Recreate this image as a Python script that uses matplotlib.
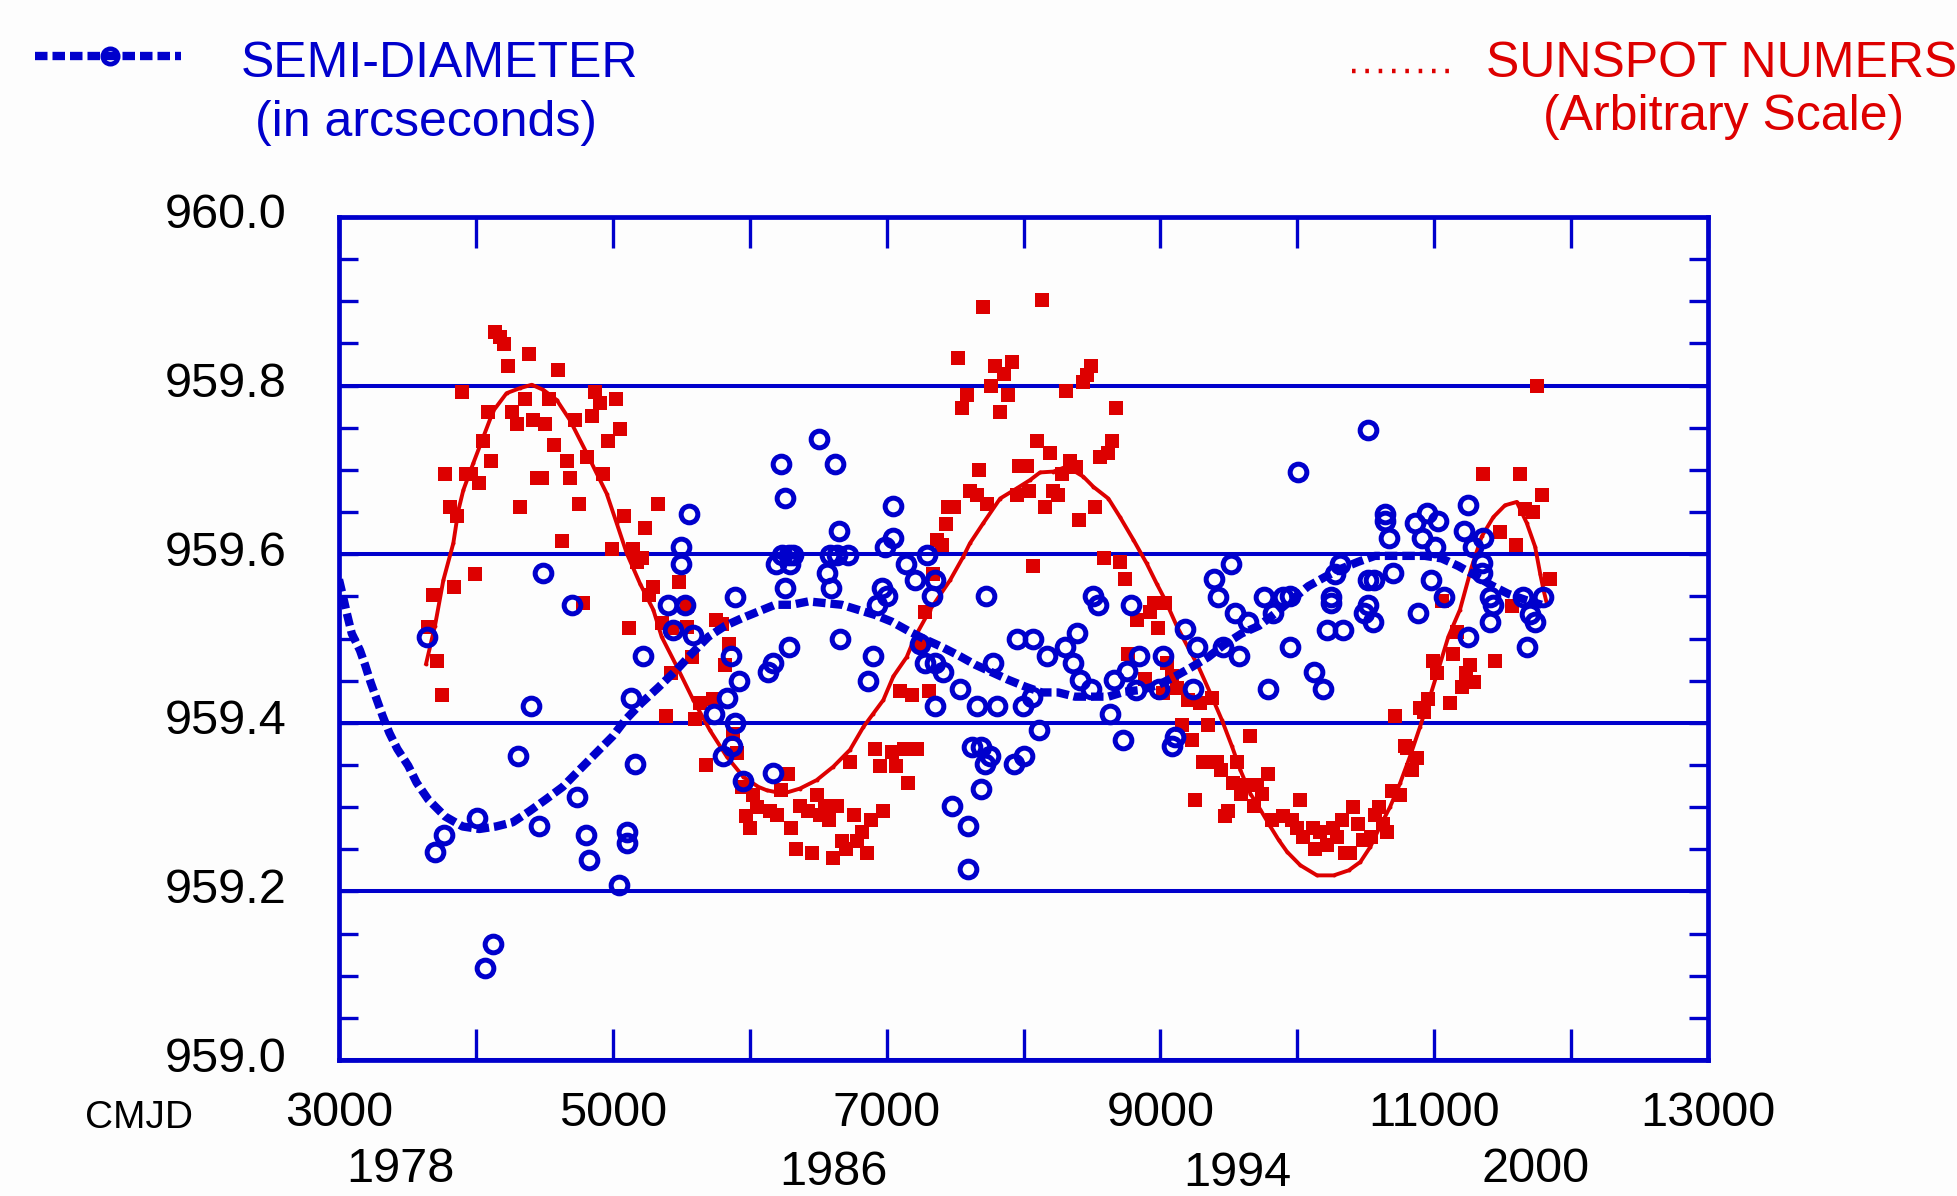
import matplotlib
matplotlib.use('Agg')
import matplotlib.pyplot as plt
from matplotlib.lines import Line2D
from matplotlib.transforms import ScaledTranslation
from matplotlib.ticker import FixedLocator, FormatStrFormatter

plt.rcParams['font.family'] = ['Liberation Sans', 'DejaVu Sans']

# ---------------- data ----------------
# semi-diameter observations (CMJD, arcsec)
sd_x = [5559, 5496, 5496, 4493, 4704, 5406, 5528, 5893, 5437, 3640, 5588,
        5223, 5861, 5925, 5832, 5131, 4403, 5740, 5893, 5869, 5803, 4310, 5165,
        5954, 4741, 4006, 4463, 3767, 3704, 4802, 4829, 5106, 5106, 5043, 4127, 4069,
        6504, 6229, 6626, 6261, 7049, 6655, 7049, 6989, 6290, 6234, 6319, 6587,
        6635, 6721, 7293, 6192, 6295, 6563, 7142, 7208, 7354, 6261, 6594, 6964,
        7001, 7330, 6928, 7724, 8510, 8547, 8783,
        6660, 6290, 6173, 6136, 6903, 6867, 7244, 7281, 7415, 7354, 7780, 7536,
        7356, 7663, 7809, 7994, 8060, 7950, 8072, 8389, 8174, 8304, 8359, 8413,
        8491, 8661, 8754, 8847, 8822, 8993, 9022, 8632, 8116, 8725, 6168, 7622,
        7688, 7756, 7719, 8004, 7931, 7690, 7476, 7597, 7597,
        10519, 10003, 11250, 10641, 10641, 10860, 10945, 11031, 10673, 10909,
        11218, 11354, 11006, 11286, 9516, 10312, 11347, 9394, 10276, 10702,
        10519, 10563, 10975, 11347, 9424, 9760, 9894, 9947, 10244, 10244, 10519,
        11072, 11408, 11432, 11652, 11798, 9545, 9643, 9825, 10556, 10884, 10488,
        11408, 11700, 11737, 9180, 10215, 10337, 11250,
        9947, 11681, 10122, 10186, 9789, 9241, 9265, 9460, 9577, 9107, 9083]
sd_y = [959.648, 959.609, 959.588, 959.578, 959.540, 959.540, 959.540, 959.549, 959.510, 959.502, 959.504,
        959.479, 959.479, 959.450, 959.430, 959.430, 959.420, 959.410, 959.400, 959.372, 959.361, 959.361, 959.351,
        959.331, 959.312, 959.287, 959.277, 959.267, 959.247, 959.267, 959.237, 959.271, 959.257, 959.208, 959.138, 959.109,
        959.737, 959.707, 959.707, 959.667, 959.657, 959.628, 959.619, 959.608, 959.599, 959.599, 959.599, 959.599,
        959.599, 959.599, 959.599, 959.588, 959.588, 959.578, 959.588, 959.569, 959.569, 959.560, 959.560, 959.560,
        959.550, 959.550, 959.540, 959.550, 959.550, 959.540, 959.540,
        959.499, 959.490, 959.471, 959.460, 959.479, 959.450, 959.494, 959.471, 959.460, 959.471, 959.471, 959.440,
        959.420, 959.420, 959.420, 959.420, 959.431, 959.499, 959.499, 959.506, 959.479, 959.490, 959.471, 959.451,
        959.440, 959.451, 959.461, 959.479, 959.439, 959.440, 959.479, 959.410, 959.391, 959.380, 959.341, 959.371,
        959.371, 959.361, 959.351, 959.361, 959.351, 959.321, 959.301, 959.277, 959.227,
        959.747, 959.697, 959.658, 959.648, 959.639, 959.637, 959.649, 959.639, 959.619, 959.619,
        959.628, 959.619, 959.609, 959.609, 959.588, 959.588, 959.589, 959.570, 959.577, 959.578,
        959.569, 959.569, 959.569, 959.578, 959.549, 959.549, 959.549, 959.550, 959.549, 959.542, 959.540,
        959.549, 959.549, 959.540, 959.549, 959.549, 959.530, 959.520, 959.530, 959.520, 959.530, 959.530,
        959.520, 959.529, 959.520, 959.511, 959.510, 959.510, 959.502,
        959.490, 959.490, 959.460, 959.440, 959.440, 959.440, 959.490, 959.490, 959.479, 959.383, 959.372]

# smoothed semi-diameter
sdfit_x = [3000, 3032, 3060, 3093, 3153, 3190, 3231, 3275, 3319, 3368, 3426, 3506, 3567,
           3652, 3774, 3903, 4025, 4147, 4269, 4390, 4510, 4634, 4755, 4877, 4999,
           5089, 5206, 5333, 5467, 5576, 5698, 5820, 5942, 6063, 6185, 6307, 6429,
           6550, 6672, 6793, 6915, 7037, 7159, 7281, 7403, 7524, 7646, 7768, 7889,
           8011, 8133, 8254, 8376, 8498, 8620, 8741, 8863, 8985, 9107, 9228, 9350,
           9460, 9594, 9720, 9840, 9960, 10080, 10202, 10324, 10445, 10567, 10689,
           10810, 10932, 11054, 11176, 11297, 11419, 11541, 11663, 11785]
sdfit_y = [959.570, 959.548, 959.528, 959.506, 959.486, 959.469, 959.448, 959.428, 959.408,
           959.388, 959.369, 959.349, 959.329, 959.309, 959.289, 959.277, 959.274, 959.277,
           959.282, 959.295, 959.309, 959.324, 959.344, 959.364, 959.384, 959.403, 959.423,
           959.442, 959.463, 959.482, 959.502, 959.515, 959.524, 959.532, 959.540, 959.540,
           959.544, 959.542, 959.540, 959.534, 959.528, 959.520, 959.509, 959.499, 959.490,
           959.480, 959.469, 959.460, 959.451, 959.443, 959.436, 959.436, 959.431, 959.431,
           959.431, 959.437, 959.439, 959.445, 959.455, 959.466, 959.478, 959.492, 959.506,
           959.515, 959.530, 959.546, 959.562, 959.573, 959.583, 959.591, 959.598, 959.598,
           959.598, 959.598, 959.595, 959.586, 959.575, 959.563, 959.553, 959.546, 959.540]

# sunspot numbers (arbitrary scale)
ss_x = [4140, 4176, 4205, 4232, 4388, 4597, 3901, 4086, 4266, 4359, 4298, 4415, 4505, 4537,
        4724, 4870, 4907, 5024, 4846, 5053, 4963, 4049, 4110, 4571, 4663, 4809, 3777, 3928,
        3962, 4020, 4444, 4481, 4687, 4931, 3811, 3864, 4322, 4751, 5084, 5328, 5238, 4631,
        4997, 5145, 5211, 5175, 3993, 3840, 3684, 4785, 5481, 5296, 5267, 5540, 3653, 5116,
        5754, 5796, 5430, 5540, 5357,
        3718, 3750, 5389, 5423, 5576, 5851, 5820, 5637, 5730, 5601, 5681, 5876, 5910, 5942,
        6027, 6051, 5973, 6002,
        7098, 7188, 7310, 7244, 6916, 7037, 7127, 7220, 6733, 6952, 7067, 7159, 6278, 6229,
        6489, 6148, 6197, 6368, 6428, 6550, 6640, 6514, 6580, 6762, 6884, 6976, 6302, 6823,
        6672, 6786, 6701, 6336, 6458, 6611, 6855, 8766, 8888, 9022, 9046,
        8133, 7702, 7519, 7792, 7919, 7858, 7765, 7585, 7885, 7554, 7829, 8493, 8462, 8433,
        8311, 8676, 8101, 8194, 8649, 8615, 8559, 8340, 8384, 8284, 7970, 8024, 7673, 7610,
        7658, 7950, 8043, 8218, 8255, 7736, 8157, 8525, 7451, 7493, 8406, 7432, 7371, 7403,
        8588, 8705, 8067, 8741, 7342, 8954, 9034, 8924, 8827, 8981, 7281,
        11754, 11354, 11627, 11785, 11664, 11725, 11481, 11598, 11846, 11060, 11566, 11165,
        11140, 10994, 11445, 11262, 11233, 11019, 11291, 11201, 11116, 10958, 10897, 10926,
        10714, 10799, 10872, 10841, 10787, 9119, 9204, 9290, 9375, 9156, 9346, 9229, 9655,
        9314, 9411, 9441, 9558, 9789, 9528, 9618, 9703, 9589, 9740, 9253, 10020, 9686, 9497,
        9472, 9813, 9894, 9959, 9996, 10118, 10166, 10044, 10264, 10324, 10410, 10446, 10597,
        10568, 10293, 10483, 10536, 10653, 10624, 10690, 10750, 10130, 10215, 10349, 10385, 9083]
ss_y = [959.864, 959.858, 959.849, 959.823, 959.838, 959.819, 959.793, 959.769, 959.769, 959.784,
        959.754, 959.759, 959.754, 959.784, 959.759, 959.793, 959.779, 959.784, 959.764, 959.749,
        959.734, 959.734, 959.710, 959.730, 959.710, 959.715, 959.695, 959.695, 959.695, 959.685,
        959.690, 959.690, 959.690, 959.695, 959.656, 959.645, 959.656, 959.660, 959.645, 959.660,
        959.631, 959.616, 959.606, 959.606, 959.596, 959.591, 959.576, 959.561, 959.552, 959.542,
        959.567, 959.561, 959.552, 959.539, 959.514, 959.512, 959.522, 959.517, 959.512, 959.514,
        959.518,
        959.473, 959.433, 959.408, 959.459, 959.478, 959.494, 959.469, 959.424, 959.428, 959.404,
        959.350, 959.387, 959.364, 959.324, 959.314, 959.300, 959.289, 959.275,
        959.438, 959.433, 959.438, 959.492, 959.369, 959.365, 959.369, 959.369, 959.354, 959.349,
        959.349, 959.329, 959.339, 959.320, 959.314, 959.295, 959.291, 959.301, 959.295, 959.301,
        959.301, 959.291, 959.285, 959.291, 959.285, 959.295, 959.275, 959.271, 959.260, 959.260,
        959.250, 959.250, 959.245, 959.240, 959.245, 959.482, 959.452, 959.435, 959.471,
        959.902, 959.893, 959.833, 959.823, 959.828, 959.814, 959.799, 959.789, 959.789, 959.774,
        959.769, 959.823, 959.813, 959.804, 959.794, 959.774, 959.734, 959.720, 959.734, 959.720,
        959.715, 959.710, 959.704, 959.695, 959.705, 959.705, 959.700, 959.675, 959.670, 959.670,
        959.675, 959.675, 959.670, 959.660, 959.656, 959.656, 959.656, 959.656, 959.641, 959.636,
        959.617, 959.611, 959.596, 959.591, 959.586, 959.571, 959.577, 959.542, 959.542, 959.532,
        959.522, 959.512, 959.532,
        959.799, 959.695, 959.695, 959.670, 959.654, 959.650, 959.626, 959.611, 959.571, 959.545,
        959.538, 959.508,
        959.482, 959.473, 959.473, 959.469, 959.459, 959.459, 959.448, 959.443, 959.424, 959.428,
        959.418, 959.413, 959.408, 959.370, 959.358, 959.344, 959.372, 959.441, 959.427, 959.423,
        959.429, 959.397, 959.397, 959.380, 959.384, 959.354, 959.354, 959.344, 959.354, 959.339,
        959.329, 959.326, 959.326, 959.316, 959.316, 959.309, 959.309, 959.301, 959.295, 959.290,
        959.285, 959.289, 959.285, 959.275, 959.275, 959.271, 959.265, 959.275, 959.285, 959.300,
        959.280, 959.300, 959.291, 959.265, 959.261, 959.265, 959.271, 959.280, 959.319, 959.314,
        959.250, 959.255, 959.245, 959.245, 959.455]

# smoothed sunspot curve
ssfit_x = [3636, 3701, 3762, 3835, 3872, 3908, 3981, 4054, 4127, 4224, 4322, 4408, 4492, 4590,
           4687, 4809, 4955, 5028, 5102, 5199, 5296, 5357, 5467, 5588, 5710, 5832, 5953, 6063,
           6124, 6245, 6367, 6489, 6611, 6733, 6830, 6903, 6976, 7049, 7147, 7208, 7317, 7463,
           7560, 7609, 7707, 7829, 7950, 8048, 8121, 8218, 8316, 8437, 8510, 8620, 8705, 8803,
           8900, 8973, 9034, 9119, 9200, 9277, 9365, 9450, 9523, 9584, 9657, 9730, 9803, 9864,
           9925, 10022, 10144, 10266, 10376, 10461, 10534, 10604, 10677, 10750, 10823, 10896,
           10969, 11030, 11103, 11188, 11274, 11347, 11432, 11517, 11603, 11676, 11737, 11774,
           11798, 11822]
ssfit_y = [959.470, 959.515, 959.569, 959.613, 959.652, 959.676, 959.708, 959.739, 959.770,
           959.791, 959.797, 959.801, 959.795, 959.783, 959.759, 959.720, 959.672, 959.637,
           959.601, 959.565, 959.534, 959.502, 959.467, 959.427, 959.391, 959.360, 959.336,
           959.324, 959.320, 959.316, 959.322, 959.332, 959.348, 959.368, 959.395, 959.411,
           959.427, 959.455, 959.478, 959.502, 959.534, 959.569, 959.597, 959.613, 959.637,
           959.666, 959.678, 959.688, 959.697, 959.698, 959.704, 959.692, 959.680, 959.666,
           959.644, 959.617, 959.589, 959.565, 959.546, 959.515, 959.490, 959.467, 959.435,
           959.403, 959.372, 959.344, 959.316, 959.297, 959.277, 959.261, 959.247, 959.231,
           959.219, 959.219, 959.225, 959.235, 959.253, 959.277, 959.300, 959.328, 959.360,
           959.395, 959.431, 959.463, 959.502, 959.534, 959.585, 959.621, 959.644, 959.658,
           959.662, 959.637, 959.609, 959.577, 959.558, 959.542]

x_major = [3000, 5000, 7000, 9000, 11000, 13000]
x_minor = [4000, 6000, 8000, 10000, 12000]
y_major = [959.0, 959.2, 959.4, 959.6, 959.8, 960.0]
y_minor = [959.05, 959.1, 959.15, 959.25, 959.3, 959.35, 959.45, 959.5, 959.55,
           959.65, 959.7, 959.75, 959.85, 959.9, 959.95]
year_labels = ['1978', '1986', '1994', '2000']

# ---------------- style ----------------
BLUE = '#0000cc'
RED = '#dd0000'
W, H = 1958, 1196

fig = plt.figure(figsize=(W / 100, H / 100), dpi=100, facecolor='#fdfdfd')
ax = fig.add_axes([339 / W, 1 - 1060 / H, (1708 - 339) / W, (1060 - 217) / H])
ax.set_facecolor('#fdfdfd')

ax.set_xlim(3000, 13000)
ax.set_ylim(959.0, 960.0)
ax.xaxis.set_major_locator(FixedLocator(x_major))
ax.xaxis.set_minor_locator(FixedLocator(x_minor))
ax.yaxis.set_major_locator(FixedLocator(y_major))
ax.yaxis.set_minor_locator(FixedLocator(y_minor))
ax.yaxis.set_major_formatter(FormatStrFormatter('%.1f'))

for s in ax.spines.values():
    s.set_color(BLUE)
    s.set_linewidth(3.4)

ax.tick_params(axis='x', which='both', direction='in', top=True, bottom=True,
               length=22, width=2.4, color=BLUE, labelsize=35, pad=22,
               labelcolor='black')
ax.tick_params(axis='y', which='both', direction='in', left=True, right=True,
               length=14, width=2.4, color=BLUE, labelsize=35, pad=38,
               labelcolor='black')
# y labels sit slightly above their ticks in the reference
shift_up = ScaledTranslation(0, 6 / 100, fig.dpi_scale_trans)
for lab in ax.get_yticklabels():
    lab.set_transform(lab.get_transform() + shift_up)

ax.yaxis.grid(True, which='major', color=BLUE, linewidth=2.9)
ax.set_axisbelow(True)

# data
ax.plot(ss_x, ss_y, 's', color=RED, ms=10, mew=0, zorder=3)
ax.plot(ssfit_x, ssfit_y, '-', color=RED, lw=2.8, zorder=4)
ax.plot(ssfit_x, ssfit_y, 'o', color=RED, ms=2.8, mew=0, zorder=4)
ax.plot(sd_x, sd_y, 'o', mfc='none', mec=BLUE, ms=12, mew=3.6, zorder=5)
DASH = (0, (1.5, 0.6))
ax.plot(sdfit_x, sdfit_y, color=BLUE, lw=6, ls=DASH, dash_capstyle='butt', zorder=6)

# ---------------- legend / annotations ----------------
ly = 1 - 56 / H
fig.add_artist(Line2D([35 / W, 181 / W], [ly, ly], transform=fig.transFigure,
                      color=BLUE, lw=6, ls=DASH, dash_capstyle='butt'))
fig.add_artist(Line2D([110 / W], [ly], transform=fig.transFigure, marker='o',
                      mfc='none', mec=BLUE, ms=11, mew=3.4, ls='none'))
fig.text(439 / W, 1 - 77 / H, 'SEMI-DIAMETER', color=BLUE, fontsize=36,
         ha='center', va='baseline')
fig.text(426 / W, 1 - 136 / H, '(in arcseconds)', color=BLUE, fontsize=36,
         ha='center', va='baseline')

fig.add_artist(Line2D([1352 / W, 1455 / W], [1 - 71 / H] * 2, transform=fig.transFigure,
                      color=RED, lw=3.2, ls=(0, (0.8, 2.2))))
fig.text(1486 / W, 1 - 77 / H, 'SUNSPOT NUMERS', color=RED, fontsize=36,
         ha='left', va='baseline')
fig.text(1724 / W, 1 - 130 / H, '(Arbitrary Scale)', color=RED, fontsize=36,
         ha='center', va='baseline')

fig.text(139 / W, 1 - 1128 / H, 'CMJD', color='black', fontsize=28,
         ha='center', va='baseline')
year_pos = [(400, 1182), (833, 1185), (1237, 1186), (1536, 1182)]
for lab, (px, py) in zip(year_labels, year_pos):
    fig.text(px / W, 1 - py / H, lab, color='black', fontsize=35,
             ha='center', va='baseline')

fig.savefig('out.png', dpi=100, facecolor=fig.get_facecolor())
